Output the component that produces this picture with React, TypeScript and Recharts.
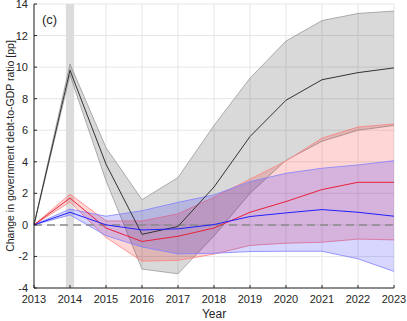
import React from 'react';
import {
  ComposedChart, Line, Area, XAxis, YAxis, CartesianGrid, ReferenceLine, ReferenceArea,
} from 'recharts';

// values (pp change in debt-to-GDP ratio)
const years = [2013, 2014, 2015, 2016, 2017, 2018, 2019, 2020, 2021, 2022, 2023];
const blackMid = [0, 9.8, 3.85, -0.6, -0.1, 2.4, 5.6, 7.9, 9.2, 9.65, 9.95];
const blackLow = [0, 9.5, 2.8, -2.8, -3.1, -0.7, 2.0, 4.1, 5.3, 6.0, 6.3];
const blackHigh = [0, 10.2, 4.9, 1.6, 3.0, 6.3, 9.3, 11.65, 12.95, 13.4, 13.55];
const redMid = [0, 1.7, -0.2, -1.05, -0.72, -0.2, 0.8, 1.48, 2.24, 2.7, 2.7];
const redLow = [0, 1.45, -0.8, -2.3, -2.25, -1.85, -1.3, -1.16, -1.1, -0.9, -0.95];
const redHigh = [0, 1.95, 0.25, 0.25, 0.7, 1.75, 2.9, 4.05, 5.5, 6.2, 6.4];
const blueMid = [0, 0.8, 0, -0.32, -0.25, 0.02, 0.53, 0.76, 0.97, 0.8, 0.55];
const blueLow = [0, 0.63, -0.68, -1.4, -1.84, -1.8, -1.69, -1.67, -1.67, -2.15, -2.95];
const blueHigh = [0, 1.0, 0.55, 0.9, 1.43, 1.9, 2.74, 3.27, 3.59, 3.8, 4.07];
const yTicks = [-4, -2, 0, 2, 4, 6, 8, 10, 12, 14];

const data = years.map((y, i) => ({
  year: y,
  black: blackMid[i],
  blackBand: [blackLow[i], blackHigh[i]],
  red: redMid[i],
  redBand: [redLow[i], redHigh[i]],
  blue: blueMid[i],
  blueBand: [blueLow[i], blueHigh[i]],
}));

const font = 'Liberation Sans, Arial, sans-serif';
const txt = '#262626';

const YTick = (props: any) => {
  const { x, y, payload } = props;
  return (
    <g>
      <line x1={x + 6} x2={x + 9} y1={y} y2={y} stroke="#262626" />
      <text x={x} y={y} dy={4} textAnchor="end" fontSize={11} fill={txt} fontFamily={font}>
        {payload.value}
      </text>
    </g>
  );
};

const XTick = (props: any) => {
  const { x, y, payload } = props;
  return (
    <g>
      <line x1={x} x2={x} y1={y - 4} y2={y - 7} stroke="#262626" />
      <text x={x} y={y} dy={11} textAnchor="middle" fontSize={11} fill={txt} fontFamily={font}>
        {payload.value}
      </text>
    </g>
  );
};

export default function App() {
  return (
    <div style={{ position: 'absolute', left: 0, top: 0, width: 407, height: 321, background: '#fff' }}>
      <ComposedChart width={407} height={321} data={data} margin={{ top: 4, right: 13, bottom: 8, left: 0 }}>
        <CartesianGrid stroke="#e6e6e6" />
        <XAxis
          dataKey="year" type="number" domain={[2013, 2023]} ticks={years} interval={0}
          tick={<XTick />} tickLine={false} tickSize={0} tickMargin={4} height={25}
          stroke="#262626"
          label={{ value: 'Year', position: 'insideBottom', offset: -5, fill: txt, fontSize: 12, fontFamily: font }}
        />
        <YAxis
          type="number" domain={[-4, 14]} ticks={yTicks} width={34}
          tick={<YTick />} tickLine={false} tickSize={0} tickMargin={6}
          stroke="#262626" interval={0}
          label={{
            value: 'Change in government debt-to-GDP ratio [pp]', angle: -90, position: 'insideLeft',
            offset: 10, style: { textAnchor: 'middle' }, fill: txt, fontSize: 10.5, fontFamily: font,
          }}
        />
        <ReferenceArea x1={2013.885} x2={2014.115} y1={-4} y2={14} fill="#dcdcdc" fillOpacity={1} stroke="none" />
        <Area dataKey="blackBand" type="linear" fill="#000" fillOpacity={0.15} stroke="#999" strokeWidth={0.8} isAnimationActive={false} />
        <Area dataKey="redBand" type="linear" fill="#ff0000" fillOpacity={0.16} stroke="#ff8080" strokeWidth={0.8} isAnimationActive={false} />
        <Area dataKey="blueBand" type="linear" fill="#0000ff" fillOpacity={0.16} stroke="#8080ff" strokeWidth={0.8} isAnimationActive={false} />
        <ReferenceLine y={0} stroke="#8a8a8a" strokeWidth={1.5} strokeDasharray="8 5" />
        <Line dataKey="black" type="linear" stroke="#333" strokeWidth={1} dot={false} isAnimationActive={false} />
        <Line dataKey="red" type="linear" stroke="#e8203a" strokeWidth={1} dot={false} isAnimationActive={false} />
        <Line dataKey="blue" type="linear" stroke="#2020ff" strokeWidth={1} dot={false} isAnimationActive={false} />
      </ComposedChart>
      <div style={{ position: 'absolute', left: 42, top: 12, fontFamily: font, fontSize: 13, color: txt }}>(c)</div>
    </div>
  );
}
